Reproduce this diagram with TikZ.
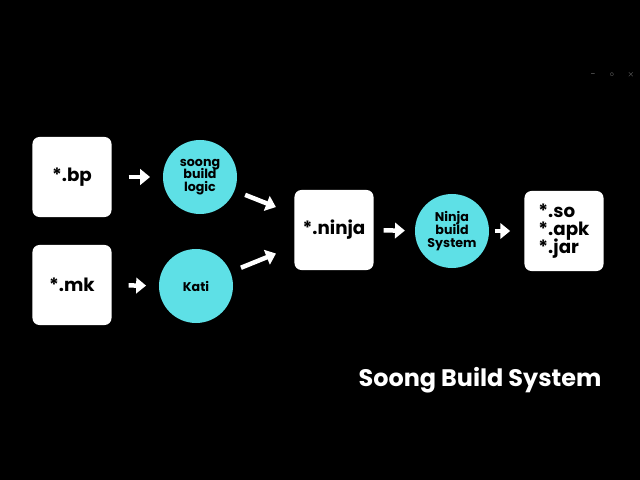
\documentclass[tikz,border=0pt]{standalone}
\usepackage{fontspec}
\setmainfont{Poppins}
\usetikzlibrary{arrows.meta,positioning}
\definecolor{soongcyan}{RGB}{94,224,230}
\tikzset{
  file/.style={fill=white, rounded corners=5pt, minimum width=1.975cm, minimum height=2cm,
    align=left, font=\fontsize{13}{16}\selectfont\bfseries},
  tool/.style={circle, fill=soongcyan, minimum size=1.85cm, inner sep=0pt,
    align=center, font=\fontsize{9}{11}\selectfont\bfseries},
  flow/.style={white, line width=3.2pt, -{Triangle[length=7pt,width=11pt]}},
}
\begin{document}
\begin{tikzpicture}[x=0.025cm,y=-0.025cm]
  \fill[black] (0,0) rectangle (640,480);
  \useasboundingbox (0,0) rectangle (640,480);

  \node[file] (bp) at (72,177) {*.bp};
  \node[file] (mk) at (72,285) {*.mk};
  \node[tool] (logic) at (200,177) {soong\\[-2pt]build\\[-2pt]logic};
  \node[tool] (kati) at (196,286) {Kati};
  \node[file] (ninja) at (334,230) {*.ninja};
  \node[tool] (ninjasys) at (452,231) {Ninja\\[-2pt]build\\[-2pt]System};
  \node[file] (out) at (564,231) {*.so\\[-3pt]*.apk\\[-3pt]*.jar};

  \draw[flow, shorten <=12pt, shorten >=9pt] (bp) -- (logic);
  \draw[flow, shorten <=12pt, shorten >=9pt] (mk) -- (kati);
  \draw[flow, shorten <=8pt, shorten >=14pt] (logic) -- (ninja);
  \draw[flow, shorten <=8pt, shorten >=14pt] (kati) -- (ninja);
  \draw[flow, shorten <=7pt, shorten >=7pt] (ninja) -- (ninjasys);
  \draw[flow, shorten <=4pt, shorten >=10pt] (ninjasys) -- (out);

  \node[white, font=\fontsize{17}{20}\selectfont\bfseries] (title) at (480,380) {Soong Build System};

  % window controls
  \node[gray, font=\tiny] (wmin) at (593,75) {--};
  \node[gray, font=\tiny] (wmax) at (612,75) {$\circ$};
  \node[gray, font=\tiny] (wclose) at (631,75) {$\times$};
\end{tikzpicture}
\end{document}
